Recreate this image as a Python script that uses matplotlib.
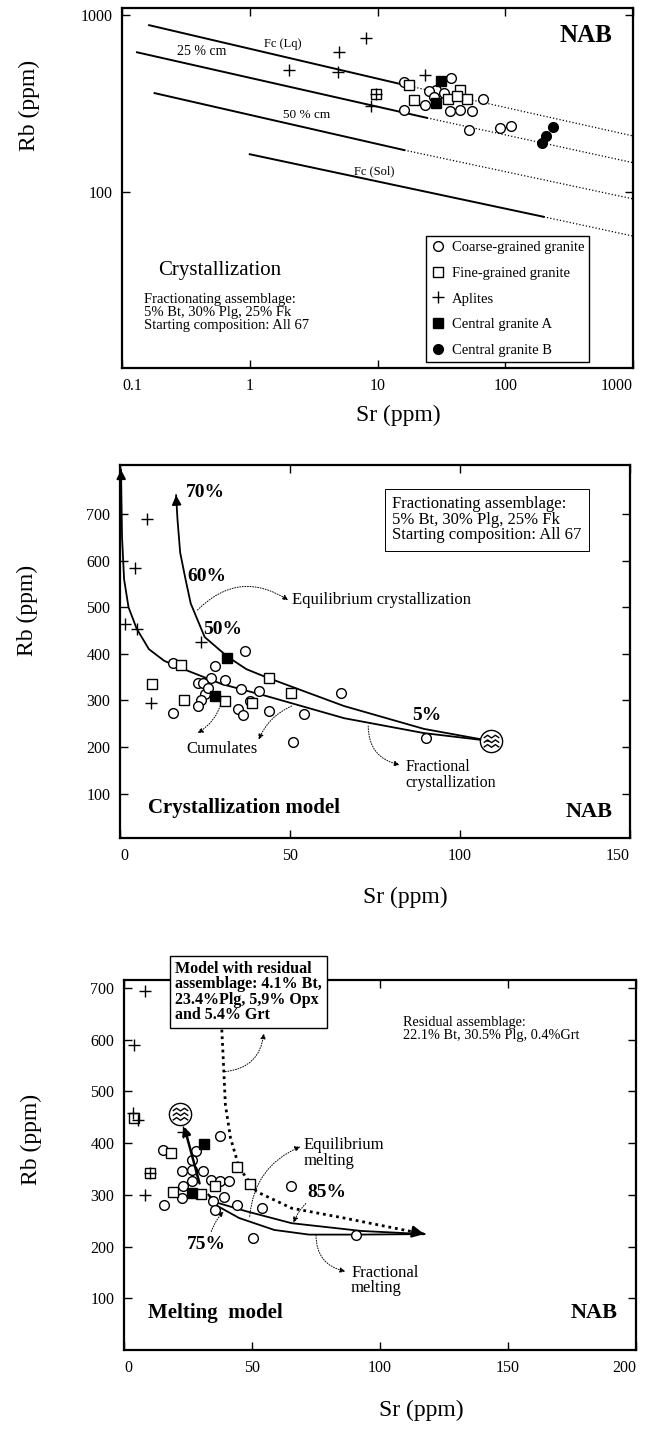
import numpy as np
import matplotlib
import matplotlib.pyplot as plt
from matplotlib.path import Path
from matplotlib.ticker import FixedLocator, FixedFormatter, NullLocator

matplotlib.use("agg")

plt.rcParams["font.family"] = ["Liberation Serif", "DejaVu Serif"]

# ---------------- panel 1 (log-log, crystallization) ----------------
p1_coarse_sr = [16.2, 37.8, 28.5, 25.1, 27.6, 23.6, 36.7, 44.4, 55.2, 16.2, 66.7, 51.9, 91.4, 110, 33.4]
p1_coarse_rb = [416, 441, 378, 370, 344, 308, 286, 292, 286, 292, 335, 225, 230, 237, 362]
p1_fine_sr = [17.8, 44.4, 19.3, 35.6, 50.2, 41.6, 9.8]
p1_fine_rb = [404, 378, 330, 335, 335, 347, 357]
p1_aplite_sr = [8.1, 5.0, 2.03, 4.9, 23.6, 8.9, 9.8]
p1_aplite_rb = [739, 622, 490, 480, 459, 305, 357]
p1_cga_sr = [31.3, 28.5]
p1_cga_rb = [426, 318]
p1_cgb_sr = [235, 207, 194]
p1_cgb_rb = [232, 207, 188]

# model lines: first two points solid, last two dotted
fc_lq_sr, fc_lq_rb = [0.163, 16.2, 1000], [879, 403, 207]
cm25_sr, cm25_rb = [0.131, 24.4, 1000], [617, 262, 146]
cm50_sr, cm50_rb = [0.18, 16.2, 1000], [362, 172, 91]
fc_sol_sr, fc_sol_rb = [1.0, 200, 1000], [163, 72, 56]

# ---------------- panel 2 (crystallization model) ----------------
p2_coarse_sr = [36.7, 15.7, 28.0, 26.9, 22.8, 24.4, 31.0, 35.7, 40.8, 24.9, 23.9, 22.8,
                15.7, 34.6, 36.2, 43.9, 54.1, 64.9, 51.0, 90.0, 25.9, 38.2]
p2_coarse_rb = [407, 380, 374, 349, 338, 338, 344, 324, 320, 313, 302, 288,
                273, 281, 268, 277, 272, 317, 210, 219, 327, 299]
p2_fine_sr = [18.0, 9.5, 18.8, 31.0, 38.7, 43.9, 50.3]
p2_fine_rb = [377, 335, 302, 299, 295, 348, 317]
p2_aplite_sr = [8.0, 4.4, 1.5, 4.9, 23.9, 9.0]
p2_aplite_rb = [690, 585, 465, 454, 425, 295]
p2_cga_sr = [31.6, 28.0]
p2_cga_rb = [392, 310]
p2_start_sr, p2_start_rb = [109], [213]

eq_cryst_sr = [109, 89.4, 65.9, 43.3, 37.2, 31.6, 24.9, 20.8, 19.3, 17.7, 16.9, 16.5]
eq_cryst_rb = [213, 239, 288, 349, 367, 394, 436, 508, 559, 617, 689, 740]
fr_cryst_sr = [109, 89.4, 65.9, 43.3, 30.0, 19.8, 13.0, 8.5, 4.9, 2.5, 1.2, 0.6, 0.3]
fr_cryst_rb = [213, 230, 262, 309, 335, 364, 385, 410, 454, 500, 560, 650, 795]

# ---------------- panel 3 (melting model) ----------------
p3_coarse_sr = [15.4, 28, 26.6, 22.5, 26.6, 30.7, 26.6, 23.2, 22.5, 15.7, 34.1, 37.5,
                40.9, 37.5, 34.8, 35.5, 38.9, 44.3, 53.9, 65.2, 50.5, 90.7]
p3_coarse_rb = [387, 384, 368, 345, 348, 345, 326, 316, 293, 281, 329, 326,
                326, 413, 287, 271, 295, 281, 274, 317, 216, 222]
p3_fine_sr = [4.1, 18.4, 10.2, 19.1, 30, 35.5, 44.3, 49.1]
p3_fine_rb = [448, 380, 342, 306, 301, 316, 354, 320]
p3_aplite_sr = [8.2, 4.1, 3.4, 5.5, 8.2, 23.2, 10.2]
p3_aplite_rb = [693, 590, 458, 445, 299, 422, 342]
p3_cga_sr = [31.4, 26.6]
p3_cga_rb = [398, 303]
p3_start_sr, p3_start_rb = [21.8], [456]

eq_melt_sr = [38.2, 38.6, 39.6, 41.6, 45.0, 51.8, 65.5, 86.0, 117.3]
eq_melt_rb = [619, 580, 474, 410, 352, 306, 274, 255, 224]
fr_melt_up_sr = [33, 36.8, 47.8, 65.5, 92.8, 117.3]
fr_melt_up_rb = [300, 284, 268, 245, 230, 224]
fr_melt_lo_sr = [33, 35.5, 45, 58.7, 72.3, 91.4, 117.3]
fr_melt_lo_rb = [300, 281, 255, 232, 223, 223, 224]
melt_link_sr = [29.5, 23.5]
melt_link_rb = [322, 432]


def wavy_marker():
    circle = Path.unit_circle()
    paths = [circle]
    for y0 in (0.42, 0.0, -0.42):
        verts = [(-0.7, y0 - 0.1), (-0.35, y0 + 0.14), (0.0, y0 - 0.1),
                 (0.35, y0 + 0.14), (0.7, y0 - 0.1)]
        paths.append(Path(verts, [Path.MOVETO] + [Path.LINETO] * 4))
    return Path.make_compound_path(*paths)


WAVY = wavy_marker()
MS = 7


def style_axes(ax):
    for s in ax.spines.values():
        s.set_linewidth(1.6)
    ax.tick_params(direction="in", length=6, width=1, top=True, right=True,
                   labelsize=11.5, pad=7)


def plot_samples(ax, coarse, fine, aplite, cga, cgb=None, labels=False):
    ax.plot(*coarse, "o", ms=MS, mfc="white", mec="black", mew=1, ls="none",
            label="Coarse-grained granite" if labels else None, zorder=4)
    ax.plot(*fine, "s", ms=MS, mfc="white", mec="black", mew=1, ls="none",
            label="Fine-grained granite" if labels else None, zorder=4)
    ax.plot(*aplite, "+", ms=MS + 2, mec="black", mew=1, ls="none",
            label="Aplites" if labels else None, zorder=5)
    ax.plot(*cga, "s", ms=MS, mfc="black", mec="black", ls="none",
            label="Central granite A" if labels else None, zorder=5)
    if cgb is not None:
        ax.plot(*cgb, "o", ms=MS, mfc="black", mec="black", ls="none",
                label="Central granite B" if labels else None, zorder=5)


def end_arrow(ax, xs, ys, scale=14, lw=1.2):
    t = 0.85
    xt = xs[-2] + t * (xs[-1] - xs[-2])
    yt = ys[-2] + t * (ys[-1] - ys[-2])
    ax.annotate("", xy=(xs[-1], ys[-1]), xytext=(xt, yt),
                arrowprops=dict(arrowstyle="-|>", color="black", lw=lw,
                                mutation_scale=scale, shrinkA=0, shrinkB=0))


def dotted_arrow(ax, start, end, rad=0.3):
    ax.annotate("", xy=end, xytext=start,
                arrowprops=dict(arrowstyle="-|>", color="black", lw=0.7, ls=":",
                                mutation_scale=8, shrinkA=0, shrinkB=0,
                                connectionstyle=f"arc3,rad={rad}"))


W, H = 660, 1435
fig = plt.figure(figsize=(W / 100, H / 100), dpi=100)

ax1 = fig.add_axes([122 / W, 1 - 368 / H, 511 / W, 360 / H])
ax2 = fig.add_axes([120 / W, 1 - 838 / H, 510 / W, 373 / H])
ax3 = fig.add_axes([124 / W, 1 - 1350 / H, 512 / W, 370 / H])

# ---------------- panel 1 ----------------
ax1.set_xscale("log")
ax1.set_yscale("log")
for sr, rb in [(fc_lq_sr, fc_lq_rb), (cm25_sr, cm25_rb), (cm50_sr, cm50_rb), (fc_sol_sr, fc_sol_rb)]:
    ax1.plot(sr[:2], rb[:2], "-", color="black", lw=1.4)
    ax1.plot(sr[1:], rb[1:], ":", color="black", lw=0.9)
plot_samples(ax1, (p1_coarse_sr, p1_coarse_rb), (p1_fine_sr, p1_fine_rb),
             (p1_aplite_sr, p1_aplite_rb), (p1_cga_sr, p1_cga_rb),
             (p1_cgb_sr, p1_cgb_rb), labels=True)
ax1.set_xlim(0.1, 1000)
ax1.set_ylim(10, 1100)
ax1.xaxis.set_major_locator(FixedLocator([0.1, 1, 10, 100, 1000]))
ax1.xaxis.set_major_formatter(FixedFormatter(["0.1", "1", "10", "100", "1000"]))
ax1.yaxis.set_major_locator(FixedLocator([100, 1000]))
ax1.yaxis.set_major_formatter(FixedFormatter(["100", "1000"]))
ax1.xaxis.set_minor_locator(NullLocator())
ax1.yaxis.set_minor_locator(NullLocator())
style_axes(ax1)

ax1.text(1.8, 690, "Fc (Lq)", fontsize=9, ha="center", va="center")
ax1.text(0.42, 620, "25 % cm", fontsize=10, ha="center", va="center")
ax1.text(2.8, 272, "50 % cm", fontsize=9.5, ha="center", va="center")
ax1.text(9.5, 130, "Fc (Sol)", fontsize=9, ha="center", va="center")
ax1.text(0.96, 0.955, "NAB", transform=ax1.transAxes, fontsize=18,
         fontweight="bold", ha="right", va="top")
ax1.text(0.07, 0.272, "Crystallization", transform=ax1.transAxes, fontsize=15,
         ha="left", va="center")
ax1.text(0.043, 0.155, "Fractionating assemblage:\n5% Bt, 30% Plg, 25% Fk\n"
         "Starting composition: All 67", transform=ax1.transAxes, fontsize=10.5,
         ha="left", va="center", linespacing=1.0)
leg = ax1.legend(loc="lower left", bbox_to_anchor=(0.595, 0.017), fontsize=10.5,
                 frameon=True, fancybox=False, framealpha=1, edgecolor="black",
                 handlelength=0.9, handletextpad=0.5, labelspacing=0.85,
                 borderpad=0.35, borderaxespad=0)
leg.get_frame().set_linewidth(1.0)

# ---------------- panel 2 ----------------
ax2.plot(eq_cryst_sr, eq_cryst_rb, "-", color="black", lw=1.3, zorder=3)
ax2.plot(fr_cryst_sr, fr_cryst_rb, "-", color="black", lw=1.3, zorder=3)
end_arrow(ax2, eq_cryst_sr, eq_cryst_rb)
end_arrow(ax2, fr_cryst_sr, fr_cryst_rb)
plot_samples(ax2, (p2_coarse_sr, p2_coarse_rb), (p2_fine_sr, p2_fine_rb),
             (p2_aplite_sr, p2_aplite_rb), (p2_cga_sr, p2_cga_rb))
ax2.plot(p2_start_sr, p2_start_rb, marker=WAVY, ms=16, mfc="white", mec="black",
         mew=1, ls="none", zorder=6)
ax2.set_xlim(0, 150)
ax2.set_ylim(5, 805)
ax2.set_xticks([0, 50, 100, 150])
ax2.set_yticks([100, 200, 300, 400, 500, 600, 700])
style_axes(ax2)

ax2.text(19.3, 747, "70%", fontsize=14, fontweight="bold", ha="left", va="center")
ax2.text(19.8, 566, "60%", fontsize=14, fontweight="bold", ha="left", va="center")
ax2.text(24.4, 452, "50%", fontsize=14, fontweight="bold", ha="left", va="center")
ax2.text(86, 268, "5%", fontsize=14, fontweight="bold", ha="left", va="center")
ax2.text(50.5, 515, "Equilibrium crystallization", fontsize=12, ha="left", va="center")
dotted_arrow(ax2, (22.8, 494), (49.5, 515), rad=-0.4)
ax2.text(19.5, 195, "Cumulates", fontsize=12, ha="left", va="center")
dotted_arrow(ax2, (30, 299), (22.8, 230), rad=-0.2)
dotted_arrow(ax2, (50.5, 288), (40.8, 216), rad=0.2)
ax2.text(84, 140, "Fractional\ncrystallization", fontsize=11.5, ha="left",
         va="center", linespacing=0.95)
dotted_arrow(ax2, (73, 245), (82.3, 162), rad=0.4)
ax2.text(80, 738, "Fractionating assemblage:\n5% Bt, 30% Plg, 25% Fk\n"
         "Starting composition: All 67", fontsize=12, ha="left", va="top",
         linespacing=0.95,
         bbox=dict(boxstyle="square,pad=0.45", fc="white", ec="black", lw=0.7))
ax2.text(0.055, 0.08, "Crystallization model", transform=ax2.transAxes,
         fontsize=15, fontweight="bold", ha="left", va="center")
ax2.text(0.965, 0.07, "NAB", transform=ax2.transAxes, fontsize=16,
         fontweight="bold", ha="right", va="center")

# ---------------- panel 3 ----------------
ax3.plot(eq_melt_sr, eq_melt_rb, ls=(0, (1, 1.4)), color="black", lw=2.0, zorder=3)
end_arrow(ax3, eq_melt_sr, eq_melt_rb, scale=18, lw=1.5)
ax3.plot(fr_melt_up_sr, fr_melt_up_rb, "-", color="black", lw=1.3, zorder=3)
ax3.plot(fr_melt_lo_sr, fr_melt_lo_rb, "-", color="black", lw=1.3, zorder=3)
ax3.annotate("", xy=(melt_link_sr[1], melt_link_rb[1]),
             xytext=(melt_link_sr[0], melt_link_rb[0]),
             arrowprops=dict(arrowstyle="-|>", color="black", lw=1.8,
                             mutation_scale=12, shrinkA=0, shrinkB=0), zorder=5)
plot_samples(ax3, (p3_coarse_sr, p3_coarse_rb), (p3_fine_sr, p3_fine_rb),
             (p3_aplite_sr, p3_aplite_rb), (p3_cga_sr, p3_cga_rb))
ax3.plot(p3_start_sr, p3_start_rb, marker=WAVY, ms=16, mfc="white", mec="black",
         mew=1, ls="none", zorder=6)
ax3.set_xlim(0, 200)
ax3.set_ylim(0, 715)
ax3.set_xticks([0, 50, 100, 150, 200])
ax3.set_yticks([100, 200, 300, 400, 500, 600, 700])
style_axes(ax3)

ax3.text(20, 752, "Model with residual\nassemblage: 4.1% Bt,\n23.4%Plg, 5,9% Opx\n"
         "and 5.4% Grt", fontsize=11.5, fontweight="bold", ha="left", va="top",
         linespacing=0.95, clip_on=False, zorder=7,
         bbox=dict(boxstyle="square,pad=0.3", fc="white", ec="black", lw=1.0))
dotted_arrow(ax3, (39.6, 538), (54.6, 612), rad=0.4)
ax3.text(109, 620, "Residual assemblage:\n22.1% Bt, 30.5% Plg, 0.4%Grt",
         fontsize=10.3, ha="left", va="center", linespacing=0.95)
ax3.text(70.3, 381, "Equilibrium\nmelting", fontsize=12, ha="left", va="center",
         linespacing=0.95)
dotted_arrow(ax3, (49.1, 258), (68.9, 393), rad=-0.3)
ax3.text(71.6, 304, "85%", fontsize=14, fontweight="bold", ha="left", va="center")
dotted_arrow(ax3, (71, 283), (66.2, 246), rad=0.1)
ax3.text(24.6, 203, "75%", fontsize=14, fontweight="bold", ha="left", va="center")
dotted_arrow(ax3, (34.1, 229), (38.9, 268), rad=-0.1)
ax3.text(88.7, 134, "Fractional\nmelting", fontsize=12, ha="left", va="center",
         linespacing=0.95)
dotted_arrow(ax3, (75, 222), (86.5, 152), rad=0.4)
ax3.text(0.047, 0.1, "Melting  model", transform=ax3.transAxes, fontsize=15,
         fontweight="bold", ha="left", va="center")
ax3.text(0.965, 0.1, "NAB", transform=ax3.transAxes, fontsize=16,
         fontweight="bold", ha="right", va="center")

# ---------------- shared labels ----------------
for ax, lx, ly, bx, by in [(ax1, -0.16, 0.73, 0.54, -0.103),
                           (ax2, -0.16, 0.61, 0.56, -0.131),
                           (ax3, -0.16, 0.57, 0.58, -0.135)]:
    ax.set_ylabel("Rb (ppm)", fontsize=17)
    ax.yaxis.set_label_coords(lx, ly)
    ax.set_xlabel("Sr (ppm)", fontsize=17)
    ax.xaxis.set_label_coords(bx, by)
    labs = ax.get_xticklabels()
    labs[0].set_ha("left")
    labs[-1].set_ha("right")

fig.savefig("out.png", dpi=100)
